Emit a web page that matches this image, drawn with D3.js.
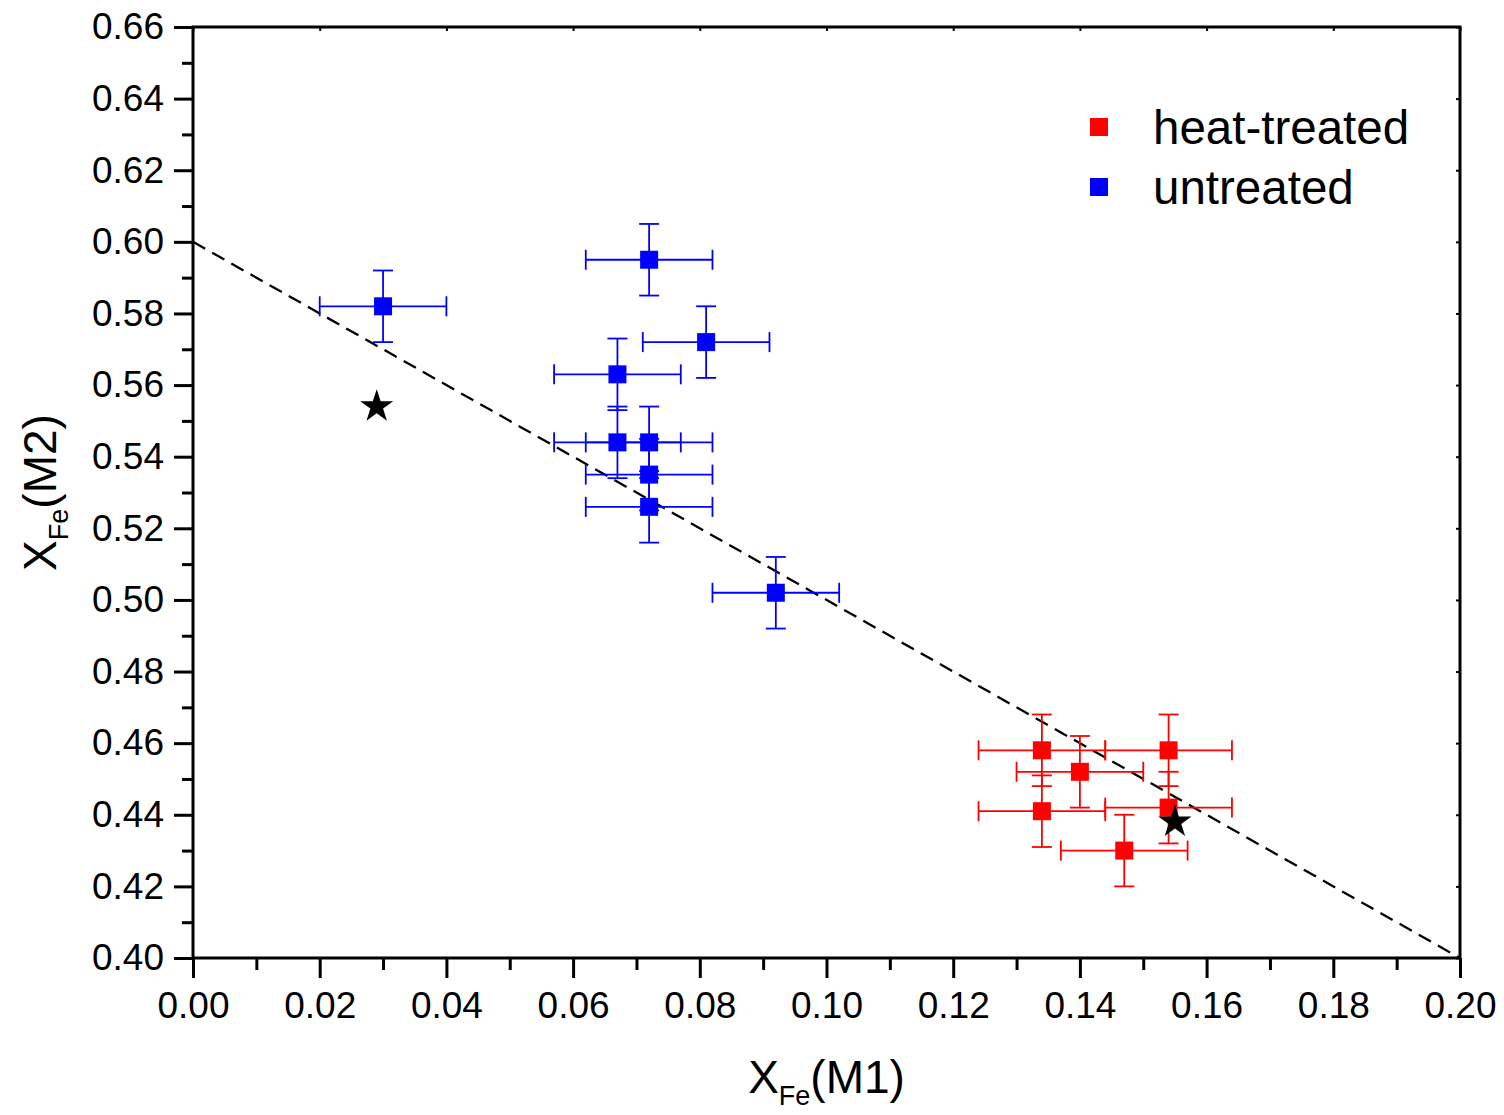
<!DOCTYPE html>
<html>
<head>
<meta charset="utf-8">
<script src="https://cdn.jsdelivr.net/npm/d3@7"></script>
<style>
  body { margin: 0; background: #fff; }
  text { font-family: "Liberation Sans", Arial, sans-serif; }
</style>
</head>
<body>
<svg id="chart" width="1504" height="1115"></svg>
<script>
// untreated samples (blue)
const untreatedX = [0.030, 0.072, 0.081, 0.067, 0.067, 0.072, 0.072, 0.072, 0.092];
const untreatedY = [0.582, 0.595, 0.572, 0.563, 0.544, 0.544, 0.535, 0.526, 0.502];
// heat-treated samples (red)
const heatX = [0.134, 0.140, 0.154, 0.134, 0.154, 0.147];
const heatY = [0.458, 0.452, 0.458, 0.441, 0.442, 0.430];
const errX = 0.010;
const errY = 0.010;
// star markers
const starX = [0.029, 0.155];
const starY = [0.554, 0.438];
// dashed reference line
const lineX = [0.0, 0.2];
const lineY = [0.60, 0.40];

const xTicks = d3.range(0, 0.2001, 0.02);
const yTicks = d3.range(0.40, 0.6601, 0.02);

const svg = d3.select('#chart');
const margin = { top: 27, right: 44, bottom: 157, left: 193 };
const width = +svg.attr("width") - margin.left - margin.right;
const height = +svg.attr("height") - margin.top - margin.bottom;
const g = svg.append("g").attr("transform", `translate(${margin.left},${margin.top})`);

const x = d3.scaleLinear().domain([0, 0.20]).range([0, width]);
const y = d3.scaleLinear().domain([0.40, 0.66]).range([height, 0]);

// minor ticks
const xMinor = d3.range(0.01, 0.2, 0.02);
const yMinor = d3.range(0.41, 0.66, 0.02);

g.append("g")
    .attr("transform", `translate(0,${height})`)
    .call(d3.axisBottom(x).tickValues(xMinor).tickSize(12).tickFormat(""))
    .call(a => a.select(".domain").remove())
    .selectAll("line").attr("stroke-width", 3);

g.append("g")
    .call(d3.axisLeft(y).tickValues(yMinor).tickSize(11).tickFormat(""))
    .call(a => a.select(".domain").remove())
    .selectAll("line").attr("stroke-width", 3);

const xAxis = g.append("g")
    .attr("transform", `translate(0,${height})`)
    .call(d3.axisBottom(x).tickValues(xTicks).tickSize(20).tickPadding(14).tickFormat(d3.format(".2f")));
xAxis.select(".domain").remove();
xAxis.selectAll("line").attr("stroke-width", 3);
xAxis.selectAll("text").attr("font-size", 37).attr("fill", "#000");

const yAxis = g.append("g")
    .call(d3.axisLeft(y).tickValues(yTicks).tickSize(19).tickPadding(10).tickFormat(d3.format(".2f")));
yAxis.select(".domain").remove();
yAxis.selectAll("line").attr("stroke-width", 3);
yAxis.selectAll("text").attr("font-size", 37).attr("fill", "#000");

// small inward ticks on top and right
g.append("g")
    .call(d3.axisTop(x).tickValues(xTicks).tickSize(-4).tickFormat(""))
    .call(a => a.select(".domain").remove())
    .selectAll("line").attr("stroke-width", 2);
g.append("g")
    .attr("transform", `translate(${width},0)`)
    .call(d3.axisRight(y).tickValues(yTicks).tickSize(-4).tickFormat(""))
    .call(a => a.select(".domain").remove())
    .selectAll("line").attr("stroke-width", 2);

// frame
g.append("rect")
    .attr("width", width).attr("height", height)
    .attr("fill", "none").attr("stroke", "#000").attr("stroke-width", 3);

// dashed line
const line = d3.line().x(d => x(d[0])).y(d => y(d[1]));
g.append("path")
    .datum(d3.zip(lineX, lineY))
    .attr("d", line)
    .attr("fill", "none")
    .attr("stroke", "#000")
    .attr("stroke-width", 2.3)
    .attr("stroke-dasharray", "14,8");

function drawSeries(xs, ys, color) {
    const data = d3.zip(xs, ys);
    const grp = g.append("g").attr("stroke", color).attr("stroke-width", 1.8);
    const cap = 10;
    data.forEach(([dx, dy]) => {
        // horizontal bar
        grp.append("line").attr("x1", x(dx - errX)).attr("x2", x(dx + errX)).attr("y1", y(dy)).attr("y2", y(dy));
        grp.append("line").attr("x1", x(dx - errX)).attr("x2", x(dx - errX)).attr("y1", y(dy) - cap).attr("y2", y(dy) + cap);
        grp.append("line").attr("x1", x(dx + errX)).attr("x2", x(dx + errX)).attr("y1", y(dy) - cap).attr("y2", y(dy) + cap);
        // vertical bar
        grp.append("line").attr("x1", x(dx)).attr("x2", x(dx)).attr("y1", y(dy - errY)).attr("y2", y(dy + errY));
        grp.append("line").attr("x1", x(dx) - cap).attr("x2", x(dx) + cap).attr("y1", y(dy - errY)).attr("y2", y(dy - errY));
        grp.append("line").attr("x1", x(dx) - cap).attr("x2", x(dx) + cap).attr("y1", y(dy + errY)).attr("y2", y(dy + errY));
    });
    g.append("g").selectAll("rect").data(data).join("rect")
        .attr("x", d => x(d[0]) - 9).attr("y", d => y(d[1]) - 9)
        .attr("width", 18).attr("height", 18)
        .attr("fill", color);
}

drawSeries(untreatedX, untreatedY, "#0000ff");
drawSeries(heatX, heatY, "#ff0000");

// stars
g.append("g").selectAll("path").data(d3.zip(starX, starY)).join("path")
    .attr("transform", d => `translate(${x(d[0])},${y(d[1])})`)
    .attr("d", d3.symbol(d3.symbolStar, 340))
    .attr("fill", "#000");

// legend
const legend = svg.append("g");
const legendItems = [["heat-treated", "#ff0000"], ["untreated", "#0000ff"]];
legendItems.forEach(([label, color], i) => {
    const cy = 127 + i * 60;
    legend.append("rect").attr("x", 1090).attr("y", cy - 9).attr("width", 18).attr("height", 18).attr("fill", color);
    legend.append("text").attr("x", 1153).attr("y", cy + 17).attr("font-size", 47.5).attr("fill", "#000").text(label);
});

// axis titles
const xt = svg.append("text")
    .attr("x", margin.left + width / 2).attr("y", 1093)
    .attr("text-anchor", "middle").attr("font-size", 46);
xt.append("tspan").text("X");
xt.append("tspan").attr("font-size", 27).attr("dy", 12).text("Fe");
xt.append("tspan").attr("dy", -12).text("(M1)");

const yt = svg.append("text")
    .attr("transform", `translate(56,${margin.top + height / 2}) rotate(-90)`)
    .attr("text-anchor", "middle").attr("font-size", 46);
yt.append("tspan").text("X");
yt.append("tspan").attr("font-size", 27).attr("dy", 12).text("Fe");
yt.append("tspan").attr("dy", -12).text("(M2)");
</script>
</body>
</html>
